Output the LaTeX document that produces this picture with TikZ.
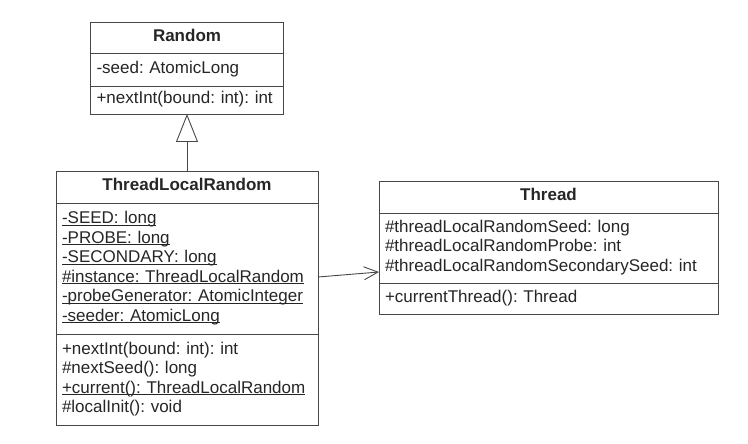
\documentclass[tikz,border=0pt]{standalone}
\usepackage{fontspec}
\setmainfont{Liberation Sans}
\usetikzlibrary{positioning,arrows.meta}
\newcommand{\stat}[1]{\underline{\smash{#1}}}
\frenchspacing

\begin{document}
\begin{tikzpicture}[x=1pt,y=-1pt,
  box/.style={draw=black!72, line width=0.9pt, fill=white, outer sep=0pt, inner xsep=6pt, inner ysep=0pt,
    text=black!85, font=\fontsize{17}{19.5}\selectfont\frenchspacing, execute at begin node=\strut, execute at end node=\strut},
  ttl/.style={box, text width=#1, align=center, font=\fontsize{17}{19.5}\selectfont\bfseries},
  mem/.style={box, text width=#1, align=left},
  gen/.style={draw=black!72, line width=0.9pt, -{Triangle[open, length=28pt, width=22pt]}},
  assoc/.style={draw=black!72, line width=0.9pt, -{Straight Barb[length=14pt, width=13pt]}}]
  \useasboundingbox (0,0) rectangle (748,444);
  \node[ttl=181, minimum height=31pt, anchor=north] (rndT) at (187,22) {Random};
  \node[mem=181, minimum height=33pt, below=0pt of rndT] (rndA) {-seed: AtomicLong};
  \node[mem=181, minimum height=28pt, below=0pt of rndA] (rndO) {+nextInt(bound: int): int};
  \node[ttl=250, minimum height=32pt, anchor=north] (tlrT) at (187,171) {ThreadLocalRandom};
  \node[mem=250, minimum height=131pt, below=0pt of tlrT] (tlrA) {\stat{-SEED: long}\\ \stat{-PROBE: long}\\ \stat{-SECONDARY: long}\\
    \stat{\#instance: ThreadLocalRandom}\\ \stat{-probeGenerator: AtomicInteger}\\ \stat{-seeder: AtomicLong}};
  \node[mem=250, minimum height=91pt, below=0pt of tlrA] (tlrO) {+nextInt(bound: int): int\\ \#nextSeed(): long\\
    \stat{+current(): ThreadLocalRandom}\\ \#localInit(): void};
  \node[ttl=327, minimum height=32pt, anchor=north] (thrT) at (548.5,181) {Thread};
  \node[mem=327, minimum height=70pt, below=0pt of thrT] (thrA) {\#threadLocalRandomSeed: long\\ \#threadLocalRandomProbe: int\\
    \#threadLocalRandomSecondarySeed: int};
  \node[mem=327, minimum height=31pt, below=0pt of thrA] (thrO) {+currentThread(): Thread};
  \draw[gen] (tlrT) -- (rndO);
  \draw[assoc] ([yshift=-8.5pt]tlrA.east) -- ([yshift=-24pt]thrA.west);
\end{tikzpicture}
\end{document}
